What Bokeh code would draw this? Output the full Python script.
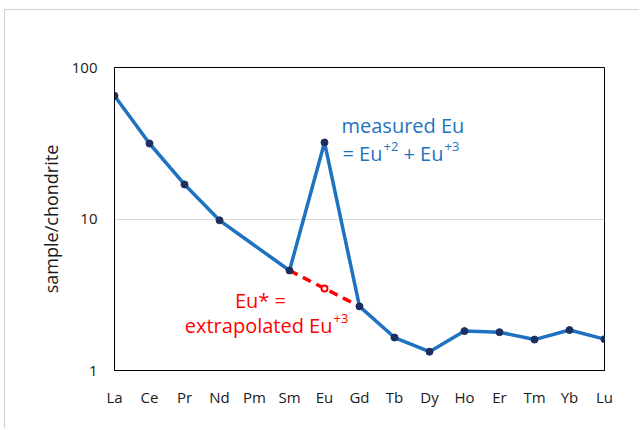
from bokeh.plotting import figure
from bokeh.models import Range1d, FixedTicker, Label
from bokeh.embed import file_html
from bokeh.resources import INLINE

# ---- data ----
elements = ["La", "Ce", "Pr", "Nd", "Pm", "Sm", "Eu", "Gd", "Tb", "Dy", "Ho", "Er", "Tm", "Yb", "Lu"]
measured = [65.0, 31.5, 16.9, 9.8, None, 4.57, 32.0, 2.65, 1.65, 1.33, 1.82, 1.79, 1.60, 1.85, 1.61]
eu_star_value = 3.48
eu_star_links = ["Sm", "Eu", "Gd"]
y_ticks = [1, 10, 100]

BLUE = "#1f72c0"
NAVY = "#1c2f5e"
RED = "#ff0000"
FONT = "Open Sans"

xs = [i for i, v in enumerate(measured) if v is not None]
ys = [v for v in measured if v is not None]

p = figure(frame_width=490, frame_height=303, y_axis_type="log",
           x_range=Range1d(0, len(elements) - 1), y_range=Range1d(1, 100),
           output_backend="svg", toolbar_location=None,
           min_border_left=109, min_border_right=35, min_border_top=57, min_border_bottom=58)
p.styles = {"margin-left": "4px", "margin-top": "9px",
            "border-top": "1px solid #d0d0d0", "border-left": "1px solid #d0d0d0"}

p.outline_line_color = "black"
p.outline_line_width = 1
p.background_fill_color = "white"
p.border_fill_color = "white"

# axes
p.xaxis.ticker = FixedTicker(ticks=list(range(len(elements))))
p.xaxis.major_label_overrides = {i: e for i, e in enumerate(elements)}
p.yaxis.ticker = FixedTicker(ticks=y_ticks)
p.yaxis.major_label_overrides = {t: str(t) for t in y_ticks}
for ax in (p.xaxis, p.yaxis):
    ax.axis_line_color = "black"
    ax.major_tick_line_color = None
    ax.minor_tick_line_color = None
    ax.major_tick_out = 0
    ax.major_tick_in = 0
    ax.major_label_text_font = FONT
    ax.major_label_text_font_size = "15px"
    ax.major_label_text_color = "#1a1a1a"
p.xaxis.major_label_standoff = 16
p.yaxis.major_label_standoff = 17
p.yaxis.axis_label = "sample/chondrite"
p.yaxis.axis_label_text_font = FONT
p.yaxis.axis_label_text_font_style = "normal"
p.yaxis.axis_label_text_font_size = "18px"
p.yaxis.axis_label_text_color = "#1a1a1a"
p.yaxis.axis_label_standoff = 6

p.xgrid.grid_line_color = None
p.ygrid.ticker = FixedTicker(ticks=y_ticks)
p.ygrid.grid_line_color = "#d9d9d9"
p.ygrid.grid_line_width = 1

# lines
p.line(xs, ys, line_color=BLUE, line_width=3.5)
lx = [elements.index(e) for e in eu_star_links]
ly = [measured[elements.index("Sm")], eu_star_value, measured[elements.index("Gd")]]
p.line(lx, ly, line_color=RED, line_width=3.5, line_dash="9 6")
p.scatter(xs, ys, size=7, fill_color=NAVY, line_color=NAVY)
p.scatter([elements.index("Eu")], [eu_star_value], size=6, fill_color="white",
          line_color=RED, line_width=2)

# ---- annotations ----
W = {'=': 0.572, ' ': 0.26, 'E': 0.561, 'u': 0.613, '+': 0.572, '2': 0.572, '3': 0.572,
     'e': 0.56, 'x': 0.53, 't': 0.352, 'r': 0.408, 'a': 0.556, 'p': 0.613, 'o': 0.602,
     'l': 0.258, 'd': 0.613}


def tw(s, size):
    return sum(W.get(c, 0.56) for c in s) * size


def add(text, x, y, xo, yo, size, color, align="left"):
    p.add_layout(Label(x=x, y=y, x_offset=xo, y_offset=yo, text=text, text_font=FONT,
                       text_font_size=f"{size}px", text_color=color,
                       text_align=align, text_baseline="alphabetic"))


BIG, SUP, RAISE = 20, 13, 7
# blue
add("measured Eu", 6.486, 41.4, 0, 0, BIG, BLUE)
xo = 0
for txt, sup, gap in [("= Eu", False, 1), ("+2", True, 5), ("+ Eu", False, 1), ("+3", True, 0)]:
    size = SUP if sup else BIG
    add(txt, 6.514, 27.1, xo, RAISE if sup else 0, size, BLUE)
    xo += tw(txt, size) + gap

# red
add("Eu* =", 4.171, 2.90, 0, 0, BIG, RED, align="center")
add("extrapolated Eu", 6.257, 1.98, -1, 0, BIG, RED, align="right")
add("+3", 6.257, 1.98, 0, RAISE, SUP, RED)

open("out.html", "w").write(file_html(p, INLINE))
